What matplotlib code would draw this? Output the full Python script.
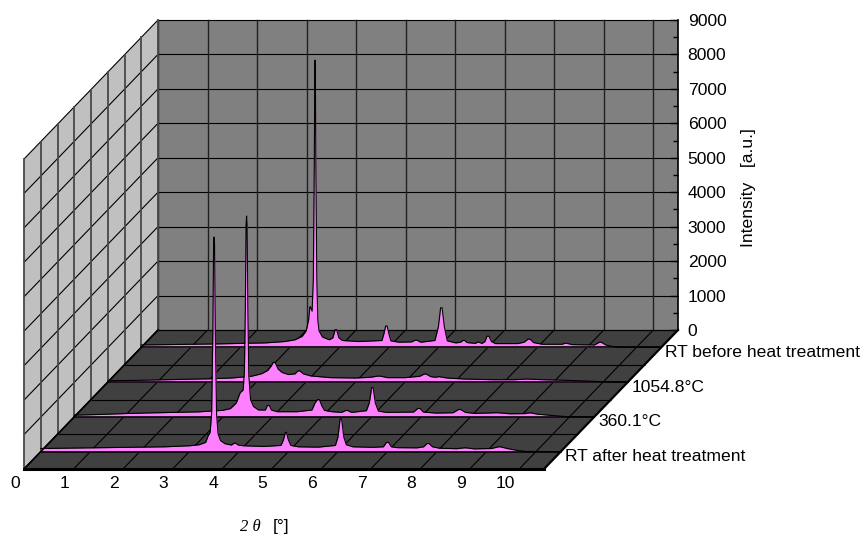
import numpy as np
import matplotlib
matplotlib.use("Agg")
import matplotlib.pyplot as plt
from matplotlib.transforms import Affine2D
from matplotlib.patches import Polygon

plt.rcParams['font.family'] = ['Liberation Sans', 'DejaVu Sans']

labels = ['RT after heat treatment', '360.1°C', '1054.8°C', 'RT before heat treatment']
depths = [0.5, 1.5, 2.5, 3.5]

after_rt = [(0,90),(0.5,100),(1,110),(1.5,120),(2,130),(2.5,140),(3,170),(3.2,200),(3.33,270),(3.38,460),(3.42,560),
 (3.45,1100),(3.475,3500),(3.49,6000),(3.50,6230),(3.51,6000),(3.525,3500),(3.55,1100),(3.58,520),(3.63,320),(3.72,230),(3.85,190),(3.90,240),(3.92,255),(3.94,240),
 (3.99,190),(4.1,170),(4.5,150),(4.85,180),(4.90,340),(4.94,560),(4.96,560),(5.0,340),(5.05,180),(5.2,140),(5.6,130),(5.95,180),
 (6.0,420),(6.045,950),(6.075,950),(6.12,420),(6.17,200),(6.3,140),(6.7,125),(6.92,140),(6.98,270),(7.02,270),(7.08,140),(7.2,115),(7.6,110),
 (7.73,140),(7.80,235),(7.84,235),(7.91,140),(8.05,100),(8.4,85),(8.55,110),(8.59,110),(8.75,80),(9.1,90),(9.24,140),(9.28,140),(9.42,90),(9.6,40),(9.78,5),(10.5,0)]

t360 = [(0,50),(0.5,70),(1,95),(1.5,115),(2,130),(2.5,145),(3,190),(3.15,240),(3.27,400),(3.35,700),(3.41,780),(3.435,1300),
 (3.455,3200),(3.47,5600),(3.48,5830),(3.49,5600),(3.505,3200),(3.525,1200),(3.56,500),(3.62,300),(3.72,200),(3.86,200),(3.90,330),(3.94,330),(3.98,200),
 (4.1,150),(4.5,150),(4.8,200),(4.86,400),(4.91,500),(4.95,500),(5.0,320),(5.05,190),(5.2,150),(5.4,130),(5.48,185),(5.52,185),(5.6,130),
 (5.9,180),(5.96,420),(6.005,850),(6.035,850),(6.08,400),(6.14,170),(6.3,130),(6.85,140),(6.94,245),(6.98,245),(7.05,140),(7.3,110),(7.65,120),
 (7.76,215),(7.80,215),(7.9,130),(8.1,100),(8.51,120),(8.55,120),(8.8,90),(9.1,95),(9.18,115),(9.22,115),(9.35,80),(9.65,40),(9.95,5),(10.5,0)]

t1054 = [(0,40),(0.5,50),(1,65),(1.5,80),(2,95),(2.5,120),(2.9,170),(3.1,240),(3.23,340),(3.30,470),(3.34,570),(3.38,570),(3.44,380),
 (3.52,280),(3.65,220),(3.78,240),(3.84,325),(3.88,325),(3.95,240),(4.1,180),(4.5,130),(5.0,120),(5.3,140),(5.45,175),(5.5,175),(5.65,130),
 (6.0,130),(6.3,170),(6.39,235),(6.43,235),(6.52,160),(6.62,140),(6.68,160),(6.85,120),(7.2,90),(7.8,70),(8.2,70),(8.46,90),(8.8,70),
 (9.3,50),(9.7,30),(10.08,5),(10.5,0)]

before_rt = [(0,70),(0.5,80),(1,90),(1.5,100),(2,115),(2.5,130),(2.9,170),(3.1,220),(3.25,320),(3.33,480),(3.38,800),(3.405,1180),(3.415,1180),
 (3.45,1050),(3.475,2000),(3.495,5500),(3.505,8200),(3.51,8340),(3.515,8200),(3.525,5500),(3.545,2000),(3.565,800),(3.59,480),(3.66,300),(3.8,220),(3.87,280),(3.915,515),(3.945,515),
 (3.99,280),(4.06,200),(4.4,170),(4.86,200),(4.90,400),(4.935,620),(4.965,620),(5.0,400),(5.04,190),(5.2,150),(5.46,160),(5.53,210),(5.57,210),
 (5.64,150),(5.93,200),(6.0,600),(6.045,1150),(6.075,1150),(6.12,600),(6.18,190),(6.35,130),(6.45,150),(6.49,200),(6.53,200),(6.58,140),(6.75,115),
 (6.78,150),(6.82,150),(6.88,115),(6.94,170),(6.98,325),(7.02,325),(7.07,170),(7.15,110),(7.6,110),(7.73,150),(7.81,240),(7.85,240),(7.92,140),(8.1,90),(8.5,90),
 (8.55,120),(8.59,120),(8.7,80),(9.15,70),(9.25,150),(9.29,150),(9.38,70),(9.5,30),(9.63,5),(10.5,0)]

series = [after_rt, t360, t1054, before_rt]
y_major = np.arange(0, 10000, 1000)
y_minor = np.arange(500, 9000, 1000)
x_major = np.arange(0, 11)
z_major = np.arange(0, 5)
z_half = np.arange(0, 4.5, 0.5)
XMAX, YMAX, ZMAX = 10.5, 9000, 4

W, H = 865, 536
fig = plt.figure(figsize=(W/100, H/100), dpi=100, facecolor='white')
ax = fig.add_axes([158/W, 1-330/H, 520/W, 310/H], facecolor='#808080')
ax.set_xlim(0, XMAX)
ax.set_ylim(0, YMAX)

dxd = 33.5/(520/XMAX)
dyd = 34.75/(310/YMAX)
floor_tr = Affine2D(np.array([[1, dxd, -ZMAX*dxd], [0, dyd, -ZMAX*dyd], [0, 0, 1]])) + ax.transData
wall_tr = Affine2D(np.array([[dxd, 0, -ZMAX*dxd], [dyd, 1, -ZMAX*dyd], [0, 0, 1]])) + ax.transData
def depth_tr(z):
    return Affine2D().translate((z-ZMAX)*dxd, (z-ZMAX)*dyd) + ax.transData

GRID = dict(color='black', lw=0.8, clip_on=False, solid_capstyle='butt')

ax.add_patch(Polygon([(0, 0), (ZMAX, 0), (ZMAX, YMAX), (0, YMAX)], closed=True, fc='#C0C0C0', ec='none',
                     transform=wall_tr, clip_on=False, zorder=1))
ax.add_patch(Polygon([(0, 0), (XMAX, 0), (XMAX, ZMAX), (0, ZMAX)], closed=True, fc='#404040', ec='none',
                     transform=floor_tr, clip_on=False, zorder=1))
for y in y_major:
    ax.plot([0, XMAX], [y, y], zorder=2, **GRID)
for x in x_major:
    ax.plot([x, x], [0, YMAX], zorder=2, color='#202020', lw=1.0, clip_on=False)
for y in y_major:
    ax.plot([0, ZMAX], [y, y], transform=wall_tr, zorder=2, **GRID)
for z in z_half:
    ax.plot([z, z], [0, YMAX], transform=wall_tr, zorder=2, color='#484848', lw=1.3, clip_on=False)
for x in x_major:
    ax.plot([x, x], [0, ZMAX], transform=floor_tr, zorder=2, **GRID)
for z in z_major:
    ax.plot([0, XMAX], [z, z], transform=floor_tr, zorder=2, **GRID)
ax.plot([0, XMAX], [0, 0], transform=floor_tr, zorder=6, color='black', lw=2.2, clip_on=False)
ax.plot([XMAX, XMAX], [0, ZMAX], transform=floor_tr, zorder=6, color='black', lw=1.6, clip_on=False)
ax.plot([0, 0], [0, ZMAX], transform=floor_tr, zorder=6, color='black', lw=1.2, clip_on=False)

for i in range(len(series)-1, -1, -1):
    xy = np.array(series[i], dtype=float)
    tr = depth_tr(depths[i])
    zo = 3 + (3-i)*0.1
    ax.fill_between(xy[:, 0], 0, xy[:, 1], color='#FF80FF', lw=0, transform=tr, clip_on=False, zorder=zo)
    ax.plot(xy[:, 0], xy[:, 1], color='black', lw=0.8, transform=tr, clip_on=False, zorder=zo+0.01)
    ax.plot([0, XMAX], [0, 0], color='black', lw=1.2, transform=tr, clip_on=False, zorder=zo+0.01)
    ax.annotate(labels[i], (XMAX, 0), xycoords=tr, xytext=(4, -5), textcoords='offset pixels',
                ha='left', va='center', fontsize=12.6, annotation_clip=False)

for s in ('left', 'top', 'bottom'):
    ax.spines[s].set_visible(False)
ax.spines['right'].set_linewidth(1.2)
ax.xaxis.set_visible(False)
ax.yaxis.tick_right()
ax.set_yticks(y_major)
ax.set_yticks(y_minor, minor=True)
ax.tick_params(axis='y', which='major', direction='in', length=6, width=1.0, pad=7, labelsize=12.6)
ax.tick_params(axis='y', which='minor', direction='in', length=3.6, width=1.0)
ax.set_yticklabels([str(v) for v in y_major])

offs = [-9]*10 + [-13.5]
for x, off in zip(x_major, offs):
    ax.annotate(str(x), (x, 0), xycoords=floor_tr, xytext=(off, -15), textcoords='offset pixels',
                ha='center', va='center', fontsize=12.6, annotation_clip=False)

fig.text(749/W, 1-188/H, 'Intensity   [a.u.]', rotation=90, ha='center', va='center', fontsize=12.6)
fig.text(240/W, 1-527/H, '2 θ', family='Liberation Serif', style='italic', ha='left', va='center', fontsize=12)
fig.text(273/W, 1-527/H, '[°]', ha='left', va='center', fontsize=12.6)

fig.savefig('out.png', dpi=100)
